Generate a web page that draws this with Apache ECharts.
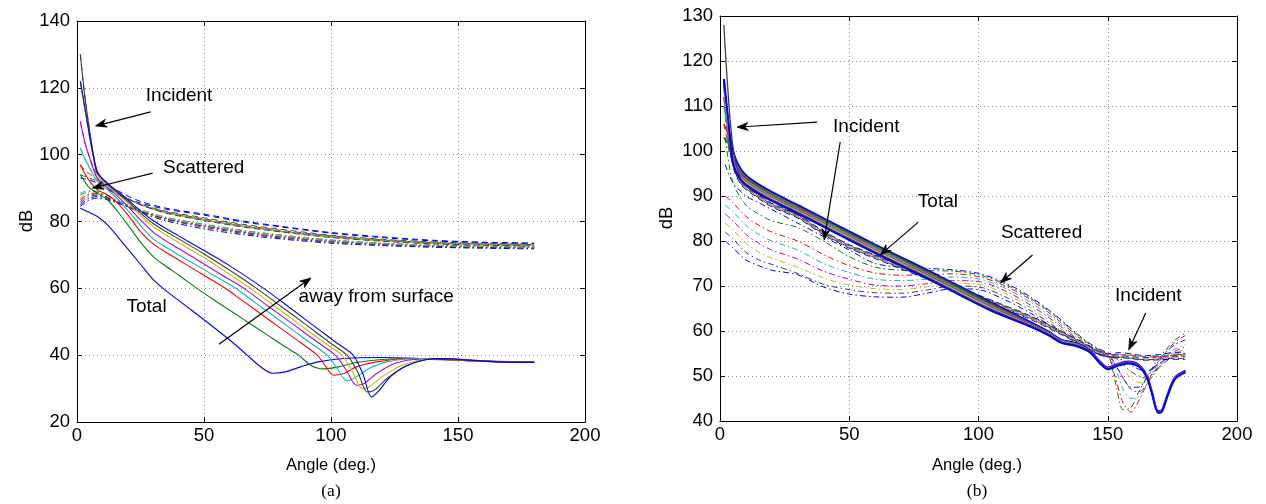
<!DOCTYPE html>
<html><head><meta charset="utf-8">
<script src="https://cdn.jsdelivr.net/npm/echarts@6/dist/echarts.min.js"></script>
<style>html,body{margin:0;padding:0;background:#fff}#c{width:1266px;height:504px}</style>
</head><body><div id="c"></div>
<script>
// ---------- colours (MATLAB cycle) ----------
const COLORS = ['#0000ff','#008000','#ff0000','#00bfbf','#bf00bf','#bfbf00','#404040','#0000ff'];

// ---------- axis ticks ----------
const X_TICKS = [0, 50, 100, 150, 200];
const LEFT_Y = {min: 20, max: 140, step: 20};
const RIGHT_Y = {min: 40, max: 130, step: 10};

// ---------- (a) Total curves: [angle, dB] ----------
const A_TOT_0 = [[1.3,84],[4,83],[8,81.5],[12,79],[16,75.5],[20,71.8],[25,67.2],[30,62.6],[35,59.3],[40,56.4],[50,50.6],[60,44.6],[67,40],[72,36.7],[77,34.6],[82,35],[88,36.5],[95,38],[105,39],[120,39.3],[135,39],[150,38.5],[165,38],[180,38]];
const A_TOT_1 = [[1.3,94],[3,92],[5,90],[8,88.5],[12,86.5],[16,83],[20,79],[25,73.8],[30,69.5],[35,66.6],[40,64],[47.2,60],[55,56],[65,51],[75,46],[82,42.5],[87.3,40],[92,37],[97,35.9],[103,36.5],[110,37.8],[120,38.7],[135,39],[150,38.6],[165,38.1],[180,38]];
const A_TOT_2 = [[1.3,97],[3,94.5],[5,92],[8,89.5],[12,88],[16,85.5],[20,82],[25,77],[30,73.3],[35,70.8],[40,68.5],[50,63.9],[58.4,60],[65,56.4],[75,50.9],[85,45.4],[94.6,40],[98,36.5],[101,34],[105,34.5],[110,36.5],[118,38],[130,39],[145,39],[160,38.3],[180,38]];
const A_TOT_3 = [[1.3,102],[3,99],[5,96],[8,92],[12,89.5],[16,86.7],[20,83.3],[25,78.8],[30,74.8],[35,72.3],[40,70],[50,65.6],[62.5,60],[70,55.8],[80,50.3],[90,44.7],[98.5,40],[102,36.5],[106.4,32.3],[110,33.5],[115,36],[122,38],[135,39],[150,38.5],[165,38.1],[180,38]];
const A_TOT_4 = [[1.3,110],[3,104],[5,99],[8,93],[12,90.2],[16,87.5],[20,84.5],[25,80.5],[30,76.8],[35,74.2],[40,71.9],[50,67.3],[57,64],[65.7,60],[75,54.8],[85,49.3],[95,43.7],[101.7,40],[106,35.5],[110,31],[113,31.5],[118,34.5],[125,37.5],[135,38.8],[150,38.5],[165,38.1],[180,38]];
const A_TOT_5 = [[1.3,122],[3,114],[5,105],[6.5,99],[8,94],[12,90.8],[16,88.2],[20,85.5],[25,81.8],[30,78.5],[35,76],[40,73.7],[50,69.2],[60,64.2],[68.3,60],[78,54.6],[88,49],[98,43.4],[104.3,40],[108.5,35],[112.3,30],[115,30.5],[120,33.5],[128,37],[138,38.8],[150,38.6],[165,38.1],[180,38]];
const A_TOT_6 = [[1.3,130],[3,118],[5,107],[6.5,100],[8,95],[12,91.2],[16,88.6],[20,86],[25,82.5],[30,79.4],[35,77],[40,74.8],[50,70.3],[60,65.5],[70.7,60],[80,54.8],[90,49.2],[100,43.5],[106.3,40],[110.5,35],[114.3,29],[117,29.5],[122,33],[130,37],[140,38.8],[150,38.6],[165,38.1],[180,38]];
const A_TOT_7 = [[1.3,122],[3,114.5],[5,105.5],[6.5,99.5],[8,94.5],[12,91.5],[16,89],[20,86.5],[25,83.2],[30,80.3],[35,77.9],[40,75.7],[50,71.3],[60,66.8],[73.5,60],[85,53.5],[95,47.8],[102,43.8],[108.7,40],[112.5,34.5],[116,27.5],[119,29.5],[124,34],[132,37.5],[142,39],[150,38.8],[165,38],[180,37.8]];

// ---------- (a) Incident (dashed) & Scattered (dash-dot) ----------
const A_BAND_ANG = [1.3, 3, 5, 8, 12, 18, 25, 35, 50, 65, 80, 100, 120, 140, 160, 180];
const A_INC_0 = [93, 92.8, 92.4, 91.5, 89.6, 87.4, 85.5, 83.7, 81.9, 79.9, 78.4, 76.5, 75.2, 74.2, 73.7, 73.5];
const A_INC_1 = [94, 93.5, 93, 92, 90, 87.4, 85.2, 83.1, 81.1, 79.2, 77.7, 75.9, 74.7, 73.9, 73.5, 73.3];
const A_INC_2 = [97, 95.5, 94.2, 92.5, 90.2, 87.5, 85.1, 82.9, 80.8, 78.9, 77.4, 75.7, 74.5, 73.7, 73.3, 73.1];
const A_INC_3 = [102, 99, 96, 93.2, 90.5, 87.6, 85.1, 82.8, 80.6, 78.7, 77.2, 75.5, 74.4, 73.6, 73.2, 73];
const A_INC_4 = [110, 104, 99, 94, 90.8, 87.7, 85, 82.7, 80.5, 78.6, 77.1, 75.4, 74.3, 73.5, 73.1, 72.9];
const A_INC_5 = [122, 114, 105, 94.5, 91, 87.7, 85, 82.6, 80.4, 78.5, 77, 75.3, 74.2, 73.4, 73, 72.8];
const A_INC_6 = [130, 118, 107, 95, 91.2, 87.8, 85, 82.5, 80.3, 78.4, 76.9, 75.2, 74.1, 73.3, 72.9, 72.7];
const A_INC_7 = [122, 114.5, 105.5, 94.8, 91.3, 88.4, 86, 84, 82.2, 80.2, 78.6, 76.7, 75.4, 74.4, 73.8, 73.5];

const A_SCA_0 = [84.5, 85.5, 86.5, 87, 86.5, 85, 83.1, 80.9, 78.7, 76.9, 75.5, 74.1, 73.3, 72.8, 72.5, 72.3];
const A_SCA_1 = [88, 88.5, 89, 88.8, 87.5, 85.5, 83.4, 81.2, 79.1, 77.3, 75.9, 74.4, 73.5, 72.9, 72.6, 72.4];
const A_SCA_2 = [86, 87, 88, 88.2, 87.2, 85.3, 83.2, 80.9, 78.8, 77, 75.6, 74.2, 73.3, 72.7, 72.4, 72.2];
const A_SCA_3 = [88.5, 89, 89.3, 89, 87.8, 85.7, 83.6, 81.3, 79.2, 77.4, 76, 74.5, 73.5, 72.9, 72.6, 72.4];
const A_SCA_4 = [86.5, 87.5, 88.3, 88.4, 87.4, 85.4, 83.2, 80.8, 78.6, 76.8, 75.4, 74, 73.2, 72.6, 72.3, 72.1];
const A_SCA_5 = [87, 88, 88.6, 88.6, 87.5, 85.5, 83.4, 81.1, 78.9, 77.1, 75.7, 74.2, 73.3, 72.7, 72.4, 72.2];
const A_SCA_6 = [85.5, 86.5, 87.5, 87.9, 87.1, 85.2, 83, 80.6, 78.3, 76.5, 75.1, 73.8, 73, 72.5, 72.2, 72];
const A_SCA_7 = [85, 86, 87, 87.5, 86.8, 85, 82.7, 80.2, 77.8, 76.1, 74.8, 73.5, 72.8, 72.3, 72, 71.8];

// ---------- (b) Total (solid) ----------
const B_TOT_ANG = [1.5, 3, 5, 8, 12, 20, 30, 45, 60, 75, 90, 105, 120, 127, 132, 138, 143, 147, 150, 154, 158, 162, 165, 167, 169.5, 171, 173, 176, 180];
const B_TOT_0 = [116, 107, 100, 96, 93.7, 90.9, 88, 83.6, 79.2, 75, 70.7, 66.3, 62, 59.9, 58.1, 57.3, 55.7, 53.2, 51.9, 52.7, 53.2, 52.5, 50.2, 46.7, 42.2, 42.5, 45.7, 49.7, 51.2];
const B_TOT_1 = [103, 102, 98.5, 95.3, 93.3, 90.5, 87.7, 83.3, 78.9, 74.7, 70.4, 66.1, 61.8, 59.8, 58, 57.2, 55.6, 53.1, 51.8, 52.6, 53.1, 52.4, 50.1, 46.6, 42.1, 42.4, 45.6, 49.6, 51.1];
const B_TOT_2 = [106, 104, 98.5, 95, 93, 90.2, 87.4, 83, 78.6, 74.4, 70.1, 65.8, 61.7, 59.7, 57.9, 57.1, 55.6, 53.1, 51.8, 52.6, 53.1, 52.4, 50.1, 46.6, 42.1, 42.4, 45.6, 49.6, 51.1];
const B_TOT_3 = [110, 105, 98.5, 94.7, 92.7, 90, 87.2, 82.8, 78.4, 74.2, 69.9, 65.6, 61.6, 59.6, 57.9, 57.1, 55.5, 53, 51.7, 52.5, 53, 52.3, 50, 46.5, 42, 42.3, 45.5, 49.5, 51];
const B_TOT_4 = [112, 106, 98.5, 94.4, 92.4, 89.7, 86.9, 82.5, 78.1, 73.9, 69.6, 65.3, 61.5, 59.5, 57.8, 57, 55.5, 53, 51.7, 52.5, 53, 52.3, 50, 46.5, 42, 42.3, 45.5, 49.5, 51];
const B_TOT_5 = [114, 106, 98, 94.2, 92.2, 89.5, 86.7, 82.3, 77.9, 73.7, 69.4, 65.1, 61.3, 59.4, 57.7, 56.9, 55.4, 52.9, 51.6, 52.4, 52.9, 52.2, 49.9, 46.4, 41.9, 42.2, 45.4, 49.4, 50.9];
const B_TOT_6 = [128, 114, 101, 93.9, 91.9, 89.2, 86.4, 82, 77.6, 73.4, 69.1, 64.8, 61.2, 59.3, 57.6, 56.8, 55.4, 52.9, 51.6, 52.4, 52.9, 52.2, 49.9, 46.4, 41.9, 42.2, 45.4, 49.4, 50.9];
const B_TOT_7 = [116, 108, 97.5, 93.6, 91.6, 88.9, 86.1, 81.7, 77.3, 73.1, 68.8, 64.5, 61, 59.1, 57.4, 56.6, 55.3, 52.8, 51.5, 52.3, 52.8, 52.1, 49.8, 46.3, 41.8, 42.1, 45.3, 49.3, 50.8];

// ---------- (b) Incident (dashed) ----------
const B_INC_ANG = [1.5, 3, 5, 8, 12, 20, 30, 40, 50, 60, 70, 80, 90, 100, 110, 120, 130, 140, 145, 150, 155, 160, 165, 170, 175, 180];
const B_INC_0 = [114, 104, 97.5, 93.4, 91.4, 88.4, 85.9, 82.2, 79.2, 76.9, 74.6, 72.4, 70.2, 68, 65.7, 63.4, 60.6, 57.6, 56, 55, 55.2, 54.8, 54.5, 54.8, 55.2, 55.3];
const B_INC_1 = [103, 101, 97.3, 93.3, 91.3, 88.3, 85.8, 82.1, 79.1, 76.8, 74.5, 72.3, 70.1, 67.9, 65.6, 63.3, 60.5, 57.5, 55.9, 54.9, 54.8, 54.4, 54.1, 54.4, 54.8, 55];
const B_INC_2 = [106, 102, 97.2, 93.2, 91.2, 88.2, 85.7, 82, 79, 76.7, 74.4, 72.2, 70, 67.8, 65.5, 63.2, 60.4, 57.4, 55.8, 54.8, 54.7, 54.6, 54.3, 54.2, 54.6, 54.7];
const B_INC_3 = [110, 103, 97.1, 93.1, 91.1, 88.1, 85.6, 81.9, 78.9, 76.6, 74.3, 72.1, 69.9, 67.7, 65.4, 63.1, 60.3, 57.3, 55.7, 54.7, 54.5, 54.3, 54.4, 54.6, 54.4, 54.5];
const B_INC_4 = [112, 103.5, 97, 93, 91, 88, 85.5, 81.8, 78.8, 76.5, 74.2, 72, 69.8, 67.6, 65.3, 63, 60.2, 57.2, 55.6, 54.6, 54.4, 54.1, 54, 54.3, 54.3, 54.3];
const B_INC_5 = [114, 104, 96.9, 92.9, 90.9, 87.9, 85.4, 81.7, 78.7, 76.4, 74.1, 71.9, 69.7, 67.5, 65.2, 62.9, 60.1, 57.1, 55.5, 54.5, 54.3, 54, 53.8, 54, 54.1, 54.1];
const B_INC_6 = [115, 104.5, 96.8, 92.8, 90.8, 87.8, 85.3, 81.6, 78.6, 76.3, 74, 71.8, 69.6, 67.4, 65.1, 62.8, 60, 57, 55.4, 54.4, 54.2, 53.9, 53.6, 53.8, 53.9, 53.9];
const B_INC_7 = [116, 105, 96.6, 92.6, 90.6, 87.6, 85.1, 81.4, 78.4, 76.1, 73.8, 71.6, 69.4, 67.2, 64.9, 62.6, 59.8, 56.8, 55.2, 54.3, 54.1, 53.8, 53.5, 53.6, 53.7, 53.7];

// ---------- (b) Scattered (dash-dot) ----------
const B_SCA_ANG = [2, 5, 10, 15, 20, 30, 40, 50, 60, 70, 80, 90, 100, 110, 120, 130, 140, 145, 150, 153, 156, 159, 162, 165, 168, 172, 176, 180];
const B_SCA_0 = [97, 93, 90, 88.5, 87, 84, 81, 78, 75, 74.2, 73.9, 73.6, 72.8, 70.8, 67.6, 63.4, 58.5, 56.5, 55, 52.5, 49.5, 47.5, 47.5, 49.5, 52, 55, 57, 58];
const B_SCA_1 = [103, 93, 88, 86, 84.5, 83, 80, 76.5, 74.2, 73.5, 73.4, 73.3, 72.5, 70.5, 67.3, 63.2, 58.3, 56.3, 54.8, 48.5, 42.5, 43, 46.5, 49.5, 52.5, 55.5, 58, 59.5];
const B_SCA_2 = [90, 88.5, 85.5, 83.5, 82, 80, 77, 74.5, 72.9, 72.4, 72.5, 72.7, 72.1, 70.1, 67, 62.8, 58, 56, 54.7, 49.5, 44, 42, 44.5, 48, 51.5, 55, 57.5, 59];
const B_SCA_3 = [88, 86.5, 83.5, 81.5, 80, 78, 75, 73, 71.5, 71.2, 71.5, 72, 71.6, 69.6, 66.4, 62.3, 57.7, 55.8, 54.6, 51.5, 47, 45, 45.5, 48, 51, 54, 56, 57];
const B_SCA_4 = [86, 84.5, 81.5, 79.5, 78, 76, 73.3, 71.5, 70.2, 70, 70.5, 71.2, 71, 69, 65.8, 61.8, 57.4, 55.6, 54.5, 52.5, 49.5, 47, 46.5, 48, 50.5, 53.5, 55.5, 56.5];
const B_SCA_5 = [84, 82.5, 79.5, 77.5, 76.2, 74.2, 71.8, 70.2, 69.4, 69.2, 69.8, 70.6, 70.4, 68.4, 65.2, 61.3, 57.1, 55.4, 54.4, 53.5, 51.5, 49.5, 48.5, 48.5, 50.5, 53, 55, 56];
const B_SCA_6 = [82, 80.5, 77.5, 75.8, 74.8, 72.8, 70.4, 69.2, 68.5, 68.4, 69.1, 70, 69.8, 67.7, 64.6, 60.8, 56.8, 55.2, 54.3, 54, 52.5, 51, 50, 49.5, 51, 53, 54.5, 55];
const B_SCA_7 = [80, 78.5, 75.8, 74.5, 73.5, 72.5, 69.8, 68.2, 67.6, 67.5, 68.4, 69.4, 69.2, 67, 64, 60.3, 56.5, 55, 54.2, 54, 53.5, 52.5, 51.5, 51, 52, 53.5, 54.5, 54.5];

// ---------- annotations (data coordinates) ----------
const A_TEXTS = [['Incident', 40.2, 117.5], ['Scattered', 49.9, 96], ['Total', 27.4, 54.4], ['away from surface', 117.8, 57.4]];
const A_ARROWS = [[[29, 112.8], [7.3, 108.6]], [[29.8, 94.5], [6.1, 90]], [[55.9, 43.3], [92.1, 63.1]]];
const B_TEXTS = [['Incident', 56.6, 105.3], ['Total', 84.3, 88.7], ['Scattered', 124.4, 81.8], ['Incident', 165.7, 67.8]];
const B_ARROWS = [[[37.6, 106.4], [6.6, 105.3]], [[46.5, 102], [40.3, 80.2]], [[76.7, 84.2], [62, 76.9]], [[120.9, 76.9], [108.5, 70.7]], [[164.7, 64], [158.1, 55.8]]];

// =====================================================================
const FONT = '"Liberation Sans", Arial, Helvetica, sans-serif';
const SERIF = '"Liberation Serif", "DejaVu Serif", serif';
const DASH = [6, 4];
const DASHDOT = [6, 3, 1.5, 3];

function zip(xs, ys) { return xs.map((x, i) => [x, ys[i]]); }
function ser(data, gi, color, dash, width) {
  return {
    type: 'line', data: data, xAxisIndex: gi * 2, yAxisIndex: gi * 2,
    symbol: 'none', showSymbol: false, smooth: 0.3, silent: true, animation: false,
    clip: true,
    lineStyle: {color: color, width: width, type: dash},
    emphasis: {disabled: true}
  };
}

const series = [];
// (a)
[A_SCA_0, A_SCA_1, A_SCA_2, A_SCA_3, A_SCA_4, A_SCA_5, A_SCA_6, A_SCA_7].forEach((ys, i) =>
  series.push(ser(zip(A_BAND_ANG, ys), 0, COLORS[i], DASHDOT, 1)));
[A_INC_0, A_INC_1, A_INC_2, A_INC_3, A_INC_4, A_INC_5, A_INC_6, A_INC_7].forEach((ys, i) =>
  series.push(ser(zip(A_BAND_ANG, ys), 0, COLORS[i], DASH, 1)));
[A_TOT_0, A_TOT_1, A_TOT_2, A_TOT_3, A_TOT_4, A_TOT_5, A_TOT_6, A_TOT_7].forEach((d, i) =>
  series.push(ser(d, 0, COLORS[i], 'solid', 1.1)));
// (b)
[B_SCA_0, B_SCA_1, B_SCA_2, B_SCA_3, B_SCA_4, B_SCA_5, B_SCA_6, B_SCA_7].forEach((ys, i) =>
  series.push(ser(zip(B_SCA_ANG, ys), 1, COLORS[i], DASHDOT, 1)));
[B_INC_0, B_INC_1, B_INC_2, B_INC_3, B_INC_4, B_INC_5, B_INC_6, B_INC_7].forEach((ys, i) =>
  series.push(ser(zip(B_INC_ANG, ys), 1, COLORS[i], DASH, 1)));
[B_TOT_0, B_TOT_1, B_TOT_2, B_TOT_3, B_TOT_4, B_TOT_5, B_TOT_6, B_TOT_7].forEach((ys, i) =>
  series.push(ser(zip(B_TOT_ANG, ys), 1, COLORS[i], 'solid', (i === 0 || i === 7) ? 2 : 1.3)));

const gridLine = {show: true, lineStyle: {color: '#8a8a8a', width: 1, type: [1, 3]}};
function xAx(gi, pos) {
  const main = pos === 'bottom';
  return {
    type: 'value', gridIndex: gi, position: pos, min: X_TICKS[0], max: X_TICKS[X_TICKS.length - 1],
    interval: X_TICKS[1] - X_TICKS[0],
    axisLine: {show: true, onZero: false, lineStyle: {color: '#000', width: 1}},
    axisTick: {show: true, inside: true, length: 5, lineStyle: {color: '#000'}},
    axisLabel: {show: main, color: '#000', fontSize: 18.5, fontFamily: FONT, margin: 4, showMinLabel: true, showMaxLabel: true},
    splitLine: main ? gridLine : {show: false}
  };
}
function yAx(gi, pos, r) {
  const main = pos === 'left';
  return {
    type: 'value', gridIndex: gi, position: pos, min: r.min, max: r.max, interval: r.step,
    axisLine: {show: true, onZero: false, lineStyle: {color: '#000', width: 1}},
    axisTick: {show: true, inside: true, length: 5, lineStyle: {color: '#000'}},
    axisLabel: {show: main, color: '#000', fontSize: 18.5, fontFamily: FONT, margin: 7, showMinLabel: true, showMaxLabel: true},
    splitLine: main ? gridLine : {show: false}
  };
}

const chart = echarts.init(document.getElementById('c'), null, {renderer: 'canvas', width: 1266, height: 504});
chart.setOption({
  backgroundColor: '#ffffff',
  animation: false,
  grid: [
    {left: 77, right: 681, top: 21, bottom: 82, show: false},
    {left: 720, right: 29, top: 16, bottom: 83, show: false}
  ],
  xAxis: [xAx(0, 'bottom'), xAx(0, 'top'), xAx(1, 'bottom'), xAx(1, 'top')],
  yAxis: [yAx(0, 'left', LEFT_Y), yAx(0, 'right', LEFT_Y), yAx(1, 'left', RIGHT_Y), yAx(1, 'right', RIGHT_Y)],
  series: series
});

// ---------- annotations & titles ----------
const graphics = [];
function px(gi, p) { return chart.convertToPixel({xAxisIndex: gi * 2, yAxisIndex: gi * 2}, p); }
function addText(txt, x, y, size, font, rot) {
  graphics.push({type: 'text', x: x, y: y, rotation: rot || 0, z: 100, silent: true,
    style: {text: txt, fill: '#000', font: size + 'px ' + font, textAlign: 'center', textVerticalAlign: 'middle'}});
}
function addArrow(t, h) {
  const dx = h[0] - t[0], dy = h[1] - t[1], L = Math.hypot(dx, dy);
  const ux = dx / L, uy = dy / L, nx = -uy, ny = ux;
  const hl = 11, hw = 4;
  const bx = h[0] - ux * hl, by = h[1] - uy * hl;
  graphics.push({type: 'line', z: 100, silent: true,
    shape: {x1: t[0], y1: t[1], x2: h[0] - ux * hl * 0.6, y2: h[1] - uy * hl * 0.6},
    style: {stroke: '#000', lineWidth: 1.2}});
  graphics.push({type: 'polygon', z: 100, silent: true,
    shape: {points: [[h[0], h[1]], [bx + nx * hw, by + ny * hw], [h[0] - ux * hl * 0.7, h[1] - uy * hl * 0.7], [bx - nx * hw, by - ny * hw]]},
    style: {fill: '#000', stroke: '#000', lineWidth: 0.8}});
}
A_TEXTS.forEach(t => { const p = px(0, [t[1], t[2]]); addText(t[0], p[0], p[1], 19, FONT); });
B_TEXTS.forEach(t => { const p = px(1, [t[1], t[2]]); addText(t[0], p[0], p[1], 19, FONT); });
A_ARROWS.forEach(a => addArrow(px(0, a[0]), px(0, a[1])));
B_ARROWS.forEach(a => addArrow(px(1, a[0]), px(1, a[1])));

// axis titles and captions
addText('Angle (deg.)', 331, 465, 16.5, FONT);
addText('Angle (deg.)', 977, 465, 16.5, FONT);
addText('dB', 27, 221, 18.5, FONT, Math.PI / 2);
addText('dB', 667, 218, 18.5, FONT, Math.PI / 2);
addText('(a)', 331, 491, 17.5, SERIF);
addText('(b)', 977, 491, 17.5, SERIF);

chart.setOption({graphic: graphics});
</script>
</body></html>
